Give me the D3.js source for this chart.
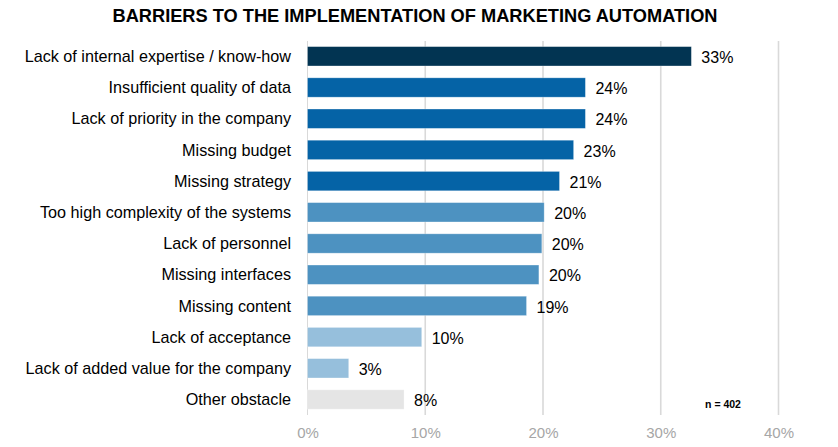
<!DOCTYPE html>
<html>
<head>
<meta charset="utf-8">
<script src="https://cdn.jsdelivr.net/npm/d3@7"></script>
<style>
  html, body { margin: 0; padding: 0; background: #ffffff; }
  svg { display: block; font-family: "Liberation Sans", Arial, sans-serif; }
</style>
</head>
<body>
<svg id="chart" width="838" height="447"></svg>
<script>
const title = "BARRIERS TO THE IMPLEMENTATION OF MARKETING AUTOMATION";
const categories = [
  "Lack of internal expertise / know-how",
  "Insufficient quality of data",
  "Lack of priority in the company",
  "Missing budget",
  "Missing strategy",
  "Too high complexity of the systems",
  "Lack of personnel",
  "Missing interfaces",
  "Missing content",
  "Lack of acceptance",
  "Lack of added value for the company",
  "Other obstacle"
];
const values = [32.6, 23.6, 23.6, 22.6, 21.4, 20.1, 19.9, 19.65, 18.6, 9.7, 3.5, 8.2];
const valueLabels = ["33%", "24%", "24%", "23%", "21%", "20%", "20%", "20%", "19%", "10%", "3%", "8%"];
const colors = ["#023452", "#0563a6", "#0563a6", "#0563a6", "#0563a6",
                "#4d92c1", "#4d92c1", "#4d92c1", "#4d92c1",
                "#96bfdc", "#96bfdc", "#e5e5e5"];
const ticks = [0, 10, 20, 30, 40];
const note = "n = 402";

const svg = d3.select("#chart");

const x = d3.scaleLinear().domain([0, 40]).range([307.5, 778.5]);
const y = d3.scaleBand().domain(categories).range([40.7, 415.1])
  .paddingInner(0.38).paddingOuter(0.19);

// Title
svg.append("text")
  .attr("x", 415).attr("y", 21.5)
  .attr("text-anchor", "middle")
  .attr("font-weight", "bold")
  .attr("font-size", "18px")
  .attr("textLength", 605)
  .attr("lengthAdjust", "spacingAndGlyphs")
  .attr("fill", "#000")
  .text(title);

// Gridlines
svg.append("g").selectAll("line").data(ticks).join("line")
  .attr("x1", d => x(d)).attr("x2", d => x(d))
  .attr("y1", 41).attr("y2", 415)
  .attr("stroke", "#d9d9d9")
  .attr("stroke-width", d => d === 0 ? 1 : 1.6);

// Axis labels
const axis = d3.axisBottom(x).tickValues(ticks).tickFormat(d => d + "%").tickSize(0).tickPadding(0);
const gAxis = svg.append("g").attr("transform", "translate(0,427)").call(axis);
gAxis.select(".domain").remove();
gAxis.selectAll("text")
  .attr("font-family", "'Liberation Sans', Arial, sans-serif")
  .attr("font-size", "15px")
  .attr("fill", "#a6a6a6")
  .attr("dy", "0.71em");

// Bars
svg.append("g").selectAll("rect").data(categories).join("rect")
  .attr("x", x(0))
  .attr("y", d => y(d))
  .attr("width", (d, i) => x(values[i]) - x(0))
  .attr("height", y.bandwidth())
  .attr("fill", (d, i) => colors[i])
  .attr("stroke", "rgba(255,255,255,0.35)")
  .attr("stroke-width", 0.8);

// Category labels
svg.append("g").selectAll("text").data(categories).join("text")
  .attr("x", 291)
  .attr("y", d => y(d) + y.bandwidth() / 2)
  .attr("dy", "0.35em")
  .attr("text-anchor", "end")
  .attr("font-size", "16.2px")
  .attr("fill", "#000")
  .text(d => d);

// Value labels
svg.append("g").selectAll("text").data(categories).join("text")
  .attr("x", (d, i) => x(values[i]) + 10)
  .attr("y", d => y(d) + y.bandwidth() / 2)
  .attr("dy", "0.42em")
  .attr("font-size", "16px")
  .attr("fill", "#000")
  .text((d, i) => valueLabels[i]);

// Note
svg.append("text")
  .attr("x", 723).attr("y", 408)
  .attr("text-anchor", "middle")
  .attr("font-size", "10.5px")
  .attr("font-weight", "bold")
  .attr("fill", "#000")
  .text(note);
</script>
</body>
</html>
